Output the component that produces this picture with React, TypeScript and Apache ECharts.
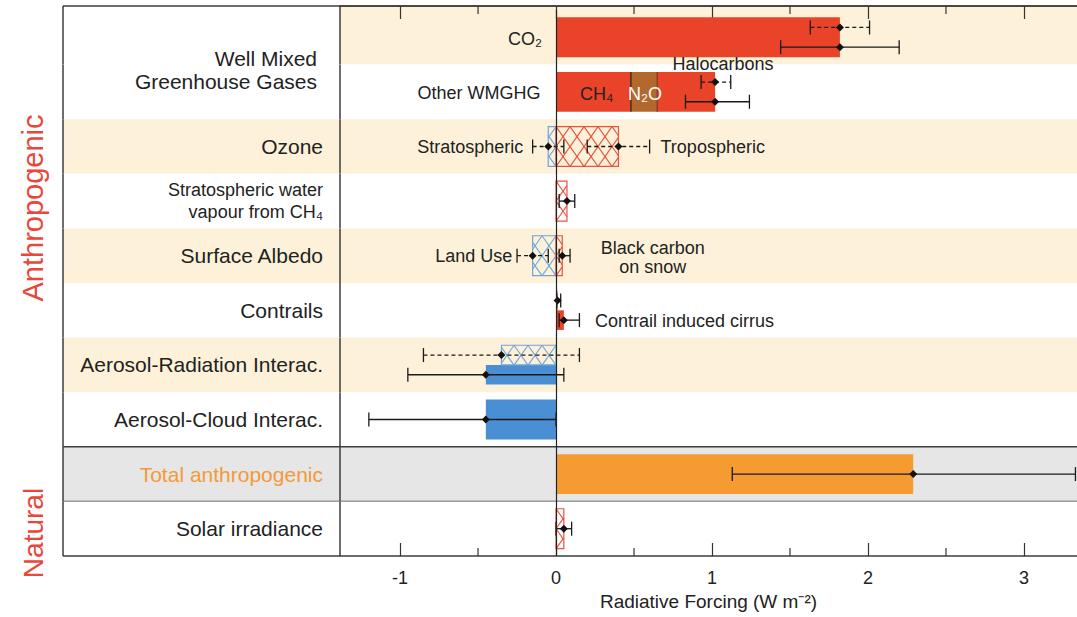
import React, { useEffect, useRef } from "react";
import * as echarts from "echarts";

const FONT = "'Liberation Sans', Arial, Helvetica, sans-serif";

// ---------- data ----------
const categories = [
  "CO2",
  "Other WMGHG",
  "Ozone",
  "Stratospheric water vapour",
  "Surface Albedo",
  "Contrails",
  "Aerosol-Radiation Interac.",
  "Aerosol-Cloud Interac.",
  "Total anthropogenic",
  "Solar irradiance",
];

const rowLabels = [
  "",
  "Well Mixed\nGreenhouse Gases",
  "Ozone",
  "Stratospheric water\nvapour from CH₄",
  "Surface Albedo",
  "Contrails",
  "Aerosol-Radiation Interac.",
  "Aerosol-Cloud Interac.",
  "Total anthropogenic",
  "Solar irradiance",
];

// band shading: w = white, b = beige, g = grey
const labelColumnBands = ["w", "w", "b", "w", "b", "w", "b", "w", "g", "w"];
const plotBands = ["b", "w", "b", "w", "b", "w", "b", "w", "g", "w"];

const xMajorTicks = [-1, 0, 1, 2, 3];
const xMinorTicks = [-0.5, 0.5, 1.5, 2.5];
const xMin = -1.385;
const xMax = 3.34;

type Slot = "full" | "top" | "bottom";
// [row, start, end, slot, colour, edged]
const solidBars: [number, number, number, Slot, string, boolean][] = [
  [0, 0, 1.82, "full", "red", false],
  [1, 0, 0.48, "full", "red", false],
  [1, 0.48, 0.65, "full", "brown", true],
  [1, 0.65, 1.02, "full", "red", false],
  [5, 0, 0.01, "top", "red", false],
  [5, 0, 0.05, "bottom", "red", false],
  [6, -0.45, 0, "bottom", "blue", false],
  [7, -0.45, 0, "full", "blue", false],
  [8, 0, 2.29, "full", "orange", false],
];

// [row, start, end, slot, colour]
const hatchedBars: [number, number, number, Slot, string][] = [
  [2, -0.05, 0, "full", "blue"],
  [2, 0, 0.4, "full", "red"],
  [3, 0, 0.07, "full", "red"],
  [4, -0.15, 0, "full", "blue"],
  [4, 0, 0.04, "full", "red"],
  [6, -0.35, 0, "top", "blue"],
  [9, 0, 0.05, "full", "red"],
];

// [row, slot, low, best, high, dashed]
const errorBars: [number, Slot, number, number, number, boolean][] = [
  [0, "top", 1.63, 1.82, 2.01, true],
  [0, "bottom", 1.44, 1.82, 2.2, false],
  [1, "top", 0.93, 1.02, 1.12, true],
  [1, "bottom", 0.83, 1.02, 1.24, false],
  [2, "full", -0.15, -0.05, 0.05, true],
  [2, "full", 0.2, 0.4, 0.6, true],
  [3, "full", 0.02, 0.07, 0.12, false],
  [4, "full", -0.25, -0.15, -0.05, true],
  [4, "full", 0.02, 0.04, 0.09, false],
  [5, "top", 0.005, 0.01, 0.03, false],
  [5, "bottom", 0.02, 0.05, 0.15, false],
  [6, "top", -0.85, -0.35, 0.15, true],
  [6, "bottom", -0.95, -0.45, 0.05, false],
  [7, "full", -1.2, -0.45, 0.0, false],
  [8, "full", 1.13, 2.29, 3.33, false],
  [9, "full", 0.0, 0.05, 0.1, false],
];

// [text, row, x value, row offset (fraction of band), align, colour]
const annotations: [string, number, number, number, string, string][] = [
  ["CO₂", 0, -0.09, 0.04, "right", "dark"],
  ["Other WMGHG", 1, -0.1, 0.02, "right", "dark"],
  ["Halocarbons", 1, 1.07, -0.51, "center", "dark"],
  ["CH₄", 1, 0.26, 0.03, "center", "dark"],
  ["N₂O", 1, 0.57, 0.03, "center", "white"],
  ["Stratospheric", 2, -0.21, 0, "right", "dark"],
  ["Tropospheric", 2, 0.67, 0, "left", "dark"],
  ["Land Use", 4, -0.28, 0, "right", "dark"],
  ["Black carbon\non snow", 4, 0.62, 0.04, "center", "dark"],
  ["Contrail induced cirrus", 5, 0.25, 0.19, "left", "dark"],
];

// ---------- styles ----------
const BAND_COLORS: Record<string, string> = { w: "#ffffff", b: "#fdf2d9", g: "#e6e6e6" };
const BAR_COLORS: Record<string, string> = {
  red: "#e9432a",
  brown: "#b3692d",
  blue: "#4a8fd3",
  orange: "#f59b31",
};
const HATCH_COLORS: Record<string, string> = { red: "#e9533f", blue: "#6ea5dc" };
const TEXT_COLORS: Record<string, string> = { dark: "#222222", white: "#ffffff" };
const SLOT_OFFSET: Record<Slot, number> = { full: 0, top: -0.18, bottom: 0.18 };
const SLOT_HEIGHT: Record<Slot, number> = { full: 0.73, top: 0.36, bottom: 0.36 };
const LABEL_COLUMN_WIDTH = 277;
const TOP_EXTENSION = 4;
const FRAME = "#3c3c3c";

function hatchLines(x0: number, y0: number, x1: number, y1: number, anchor: number, color: string) {
  const s = 14;
  const t = 0.7;
  const h = y1 - y0;
  const out: any[] = [];
  const style = { stroke: color, lineWidth: 1.1 };
  // family "/" : x = c + t*(y - y0)
  let kMin = Math.floor((x0 - t * h - anchor) / s);
  let kMax = Math.ceil((x1 - anchor) / s);
  for (let k = kMin; k <= kMax; k++) {
    const c = anchor + k * s;
    const ya = Math.max(y0, y0 + (x0 - c) / t);
    const yb = Math.min(y1, y0 + (x1 - c) / t);
    if (yb > ya)
      out.push({
        type: "line",
        shape: { x1: c + t * (ya - y0), y1: ya, x2: c + t * (yb - y0), y2: yb },
        style,
      });
  }
  // family "\" : x = c - t*(y - y0)
  kMin = Math.floor((x0 - anchor) / s);
  kMax = Math.ceil((x1 + t * h - anchor) / s);
  for (let k = kMin; k <= kMax; k++) {
    const c = anchor + k * s;
    const ya = Math.max(y0, y0 + (c - x1) / t);
    const yb = Math.min(y1, y0 + (c - x0) / t);
    if (yb > ya)
      out.push({
        type: "line",
        shape: { x1: c - t * (ya - y0), y1: ya, x2: c - t * (yb - y0), y2: yb },
        style,
      });
  }
  return out;
}

function barRect(api: any, row: number, start: number, end: number, slot: Slot) {
  const band = api.size([0, 1])[1];
  const cy = api.coord([0, row])[1] + SLOT_OFFSET[slot] * band;
  const hh = (SLOT_HEIGHT[slot] * band) / 2;
  const xa = api.coord([start, row])[0];
  const xb = api.coord([end, row])[0];
  return { x0: Math.min(xa, xb), x1: Math.max(xa, xb), y0: cy - hh, y1: cy + hh };
}

export default function App() {
  const ref = useRef<HTMLDivElement>(null);

  useEffect(() => {
    if (!ref.current) return;
    const chart = echarts.init(ref.current, null, { renderer: "svg" });

    const line = (x1: number, y1: number, x2: number, y2: number, w = 1.5) => ({
      type: "line",
      shape: { x1, y1, x2, y2 },
      style: { stroke: FRAME, lineWidth: w },
    });

    const option: any = {
      animation: false,
      backgroundColor: "#ffffff",
      textStyle: { fontFamily: FONT },
      grid: { left: 340, top: 10, width: 737, height: 546, containLabel: false },
      xAxis: [
        {
          type: "value",
          position: "bottom",
          min: xMin,
          max: xMax,
          splitLine: { show: false },
          axisLine: { show: true, onZero: false, lineStyle: { color: FRAME, width: 1.5 } },
          axisTick: {
            show: true,
            inside: true,
            length: 13,
            customValues: xMajorTicks,
            lineStyle: { color: "#333", width: 1.2 },
          },
          axisLabel: {
            show: true,
            customValues: xMajorTicks,
            fontSize: 18,
            color: "#222",
            margin: 13,
            fontFamily: FONT,
          },
          name: "Radiative Forcing (W m⁻²)",
          nameLocation: "middle",
          nameGap: 35,
          nameTextStyle: { fontSize: 19, color: "#222", fontFamily: FONT },
        },
        {
          type: "value",
          position: "top",
          offset: TOP_EXTENSION,
          min: xMin,
          max: xMax,
          splitLine: { show: false },
          axisLine: { show: true, onZero: false, lineStyle: { color: FRAME, width: 1.5 } },
          axisTick: {
            show: true,
            inside: true,
            length: 13,
            customValues: xMajorTicks,
            lineStyle: { color: "#333", width: 1.2 },
          },
          axisLabel: { show: false },
        },
      ],
      yAxis: {
        type: "category",
        data: categories,
        inverse: true,
        axisLine: { show: false, onZero: false },
        axisTick: { show: false },
        splitLine: { show: false },
        axisLabel: {
          interval: 0,
          margin: 17,
          formatter: (_v: string, index: number) => {
            const t = rowLabels[index];
            if (!t) return "";
            if (index === 1)
              return t.split("\n").map((l) => `{w|${l}}`).join("\n") + "\n{pad| }";
            if (index === 3) return t.split("\n").map((l) => `{s|${l}}`).join("\n");
            if (index === 8) return `{o|${t}}`;
            return `{a|${t}}`;
          },
          rich: {
            a: { fontSize: 21, color: "#222", fontFamily: FONT },
            w: { fontSize: 21, color: "#222", lineHeight: 23, fontFamily: FONT, padding: [0, 6, 0, 0] },
            pad: { fontSize: 10, lineHeight: 44 },
            s: { fontSize: 18, color: "#222", lineHeight: 22, fontFamily: FONT },
            o: { fontSize: 21, color: "#f39a38", fontFamily: FONT },
          },
        },
      },
      graphic: [
        {
          type: "text",
          x: 33,
          y: 208,
          rotation: Math.PI / 2,
          style: {
            text: "Anthropogenic",
            fill: "#e8473a",
            fontSize: 29,
            fontFamily: FONT,
            align: "center",
            verticalAlign: "middle",
          },
        },
        {
          type: "text",
          x: 33,
          y: 533,
          rotation: Math.PI / 2,
          style: {
            text: "Natural",
            fill: "#e8473a",
            fontSize: 28,
            fontFamily: FONT,
            align: "center",
            verticalAlign: "middle",
          },
        },
      ],
      series: [
        {
          name: "bands",
          type: "custom",
          z: 0,
          silent: true,
          encode: { x: 0, y: 1 },
          data: categories.map((_c, i) => [xMin, i]),
          renderItem: (params: any, api: any) => {
            const row = api.value(1);
            const cs = params.coordSys;
            const band = api.size([0, 1])[1];
            const cy = api.coord([xMin, row])[1];
            let top = cy - band / 2;
            const bottom = cy + band / 2;
            if (row === 0) top -= TOP_EXTENSION;
            const left = cs.x - LABEL_COLUMN_WIDTH;
            const right = cs.x + cs.width;
            const children: any[] = [
              {
                type: "rect",
                shape: { x: left, y: top, width: cs.x - left, height: bottom - top },
                style: { fill: BAND_COLORS[labelColumnBands[row]] },
              },
              {
                type: "rect",
                shape: { x: cs.x, y: top, width: cs.width, height: bottom - top },
                style: { fill: BAND_COLORS[plotBands[row]] },
              },
              line(left, top, left, bottom),
              line(cs.x, top, cs.x, bottom),
            ];
            if (row === 0) children.push(line(left, top, right, top));
            if (plotBands[row] === "g") {
              children.push(line(left, top, right, top));
              children.push(line(left, bottom, right, bottom));
            }
            if (row === categories.length - 1) children.push(line(left, bottom, cs.x, bottom));
            return { type: "group", children };
          },
        },
        {
          name: "bars",
          type: "custom",
          z: 2,
          silent: true,
          encode: { x: [1, 2], y: 0 },
          data: solidBars.map((b) => [b[0], b[1], b[2]]),
          renderItem: (params: any, api: any) => {
            const b = solidBars[params.dataIndex];
            const r = barRect(api, b[0], b[1], b[2], b[3]);
            const children: any[] = [
              {
                type: "rect",
                shape: { x: r.x0, y: r.y0, width: r.x1 - r.x0, height: r.y1 - r.y0 },
                style: { fill: BAR_COLORS[b[4]] },
              },
            ];
            if (b[5]) {
              children.push({
                type: "line",
                shape: { x1: r.x0, y1: r.y0, x2: r.x0, y2: r.y1 },
                style: { stroke: "#3a2616", lineWidth: 1.3 },
              });
              children.push({
                type: "line",
                shape: { x1: r.x1, y1: r.y0, x2: r.x1, y2: r.y1 },
                style: { stroke: "#3a2616", lineWidth: 1.3 },
              });
            }
            return { type: "group", children };
          },
          markLine: {
            silent: true,
            symbol: ["none", "none"],
            label: { show: false },
            lineStyle: { color: "#222", width: 1.2, type: "solid" },
            data: [{ xAxis: 0 }],
          },
        },
        {
          name: "hatched",
          type: "custom",
          z: 2,
          silent: true,
          encode: { x: [1, 2], y: 0 },
          data: hatchedBars.map((b) => [b[0], b[1], b[2]]),
          renderItem: (params: any, api: any) => {
            const b = hatchedBars[params.dataIndex];
            const r = barRect(api, b[0], b[1], b[2], b[3]);
            const color = HATCH_COLORS[b[4]];
            const anchor = api.coord([0, b[0]])[0];
            const children: any[] = [
              ...hatchLines(r.x0, r.y0, r.x1, r.y1, anchor, color),
              {
                type: "rect",
                shape: { x: r.x0, y: r.y0, width: r.x1 - r.x0, height: r.y1 - r.y0 },
                style: { fill: "none", stroke: color, lineWidth: 1.2 },
              },
            ];
            return { type: "group", children };
          },
        },
        {
          name: "errors",
          type: "custom",
          z: 4,
          silent: true,
          encode: { x: [2, 3, 4], y: 0 },
          data: errorBars.map((e) => [e[0], e[3], e[2], e[3], e[4]]),
          renderItem: (params: any, api: any) => {
            const e = errorBars[params.dataIndex];
            const row = e[0];
            const band = api.size([0, 1])[1];
            const y = api.coord([0, row])[1] + SLOT_OFFSET[e[1]] * band;
            const xl = api.coord([e[2], row])[0];
            const xb = api.coord([e[3], row])[0];
            const xh = api.coord([e[4], row])[0];
            const cap = 7;
            const st = { stroke: "#1a1a1a", lineWidth: 1.3 };
            const d = 4;
            return {
              type: "group",
              children: [
                {
                  type: "line",
                  shape: { x1: xl, y1: y, x2: xh, y2: y },
                  style: { ...st, lineDash: e[5] ? [4, 3] : null },
                },
                { type: "line", shape: { x1: xl, y1: y - cap, x2: xl, y2: y + cap }, style: st },
                { type: "line", shape: { x1: xh, y1: y - cap, x2: xh, y2: y + cap }, style: st },
                {
                  type: "polygon",
                  shape: { points: [[xb, y - d], [xb + d, y], [xb, y + d], [xb - d, y]] },
                  style: { fill: "#111" },
                },
              ],
            };
          },
        },
        {
          name: "minorTicks",
          type: "custom",
          z: 5,
          silent: true,
          encode: { x: 0, y: 1 },
          data: xMinorTicks.map((v) => [v, 0]),
          renderItem: (params: any, api: any) => {
            const cs = params.coordSys;
            const x = api.coord([api.value(0), 0])[0];
            const st = { stroke: "#333", lineWidth: 1.2 };
            const bottom = cs.y + cs.height;
            const top = cs.y - TOP_EXTENSION;
            return {
              type: "group",
              children: [
                { type: "line", shape: { x1: x, y1: bottom, x2: x, y2: bottom - 8 }, style: st },
                { type: "line", shape: { x1: x, y1: top, x2: x, y2: top + 8 }, style: st },
              ],
            };
          },
        },
        {
          name: "annotations",
          type: "custom",
          z: 6,
          silent: true,
          encode: { x: 0, y: 1 },
          data: annotations.map((a) => [a[2], a[1]]),
          renderItem: (params: any, api: any) => {
            const a = annotations[params.dataIndex];
            const band = api.size([0, 1])[1];
            const p = api.coord([a[2], a[1]]);
            return {
              type: "text",
              x: p[0],
              y: p[1] + a[3] * band,
              style: {
                text: a[0],
                fill: TEXT_COLORS[a[5]],
                fontSize: 18,
                fontFamily: FONT,
                lineHeight: 19,
                align: a[4],
                verticalAlign: "middle",
              },
            };
          },
        },
      ],
    };

    chart.setOption(option);
    return () => chart.dispose();
  }, []);

  return (
    <div
      ref={ref}
      style={{ position: "fixed", left: 0, top: 0, width: "1077px", height: "617px", background: "#fff" }}
    />
  );
}
